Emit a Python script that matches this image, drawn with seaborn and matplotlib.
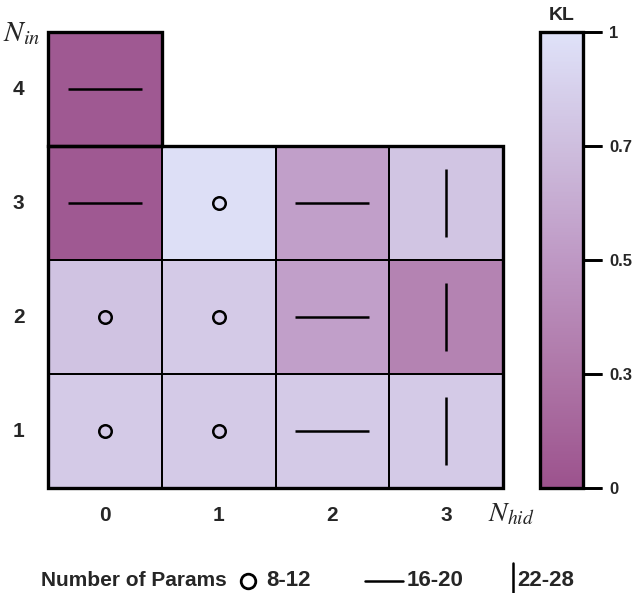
import numpy as np
import pandas as pd
import seaborn as sns
import matplotlib.pyplot as plt
from matplotlib.colors import LinearSegmentedColormap, FuncNorm
from matplotlib.patches import Rectangle
from matplotlib.transforms import blended_transform_factory

# data
n_in = [4, 3, 2, 1]
n_hid = [0, 1, 2, 3]
kl = [
    [0.06, np.nan, np.nan, np.nan],
    [0.06, 0.97, 0.54, 0.76],
    [0.74, 0.80, 0.54, 0.38],
    [0.80, 0.80, 0.80, 0.80],
]
# number-of-params class per cell: 'o' = 8-12, '_' = 16-20, '|' = 22-28
params = [
    ['_', None, None, None],
    ['_', 'o', '_', '|'],
    ['o', 'o', '_', '|'],
    ['o', 'o', '_', '|'],
]
cbar_ticks = [0, 0.3, 0.5, 0.7, 1]
cbar_ticklabels = ['0', '0.3', '0.5', '0.7', '1']
legend_labels = ['8-12', '16-20', '22-28']

sns.set_style('white')
plt.rcParams['font.family'] = ['Liberation Sans', 'DejaVu Sans']
plt.rcParams['mathtext.fontset'] = 'stix'

# colour bar is drawn with equally spaced ticks at 0 / .3 / .5 / .7 / 1
tick_pos = [0, 0.25, 0.5, 0.75, 1]
norm = FuncNorm((lambda v: np.interp(v, cbar_ticks, tick_pos),
                 lambda p: np.interp(p, tick_pos, cbar_ticks)), vmin=0, vmax=1)
cmap = LinearSegmentedColormap.from_list(
    'kl', [(0, '#9c528d'), (0.25, '#ae76a7'), (0.5, '#be98c4'),
           (0.75, '#cebede'), (1, '#dfe2f9')])

df = pd.DataFrame(kl, index=n_in, columns=n_hid)

fig = plt.figure(figsize=(6.4, 5.93), dpi=100)
ax = fig.add_axes([0.075, 0.177, 0.711, 0.769])
cax = fig.add_axes([0.844, 0.177, 0.067, 0.769])

sns.heatmap(df, ax=ax, cbar_ax=cax, cmap=cmap, norm=norm,
            linewidths=1.2, linecolor='black')

# no grid lines on the empty cells
mesh = ax.collections[0]
empty = df.isna().to_numpy().ravel()
mesh.set_edgecolor([(0, 0, 0, 0) if e else (0, 0, 0, 1) for e in empty])

# markers for the param classes
for i, row in enumerate(params):
    for j, p in enumerate(row):
        if p == 'o':
            ax.plot(j + 0.5, i + 0.5, 'o', ms=9, mfc='none', mec='black', mew=1.8)
        elif p == '_':
            ax.plot(j + 0.5, i + 0.5, '_', ms=53, mec='black', mew=1.8)
        elif p == '|':
            ax.plot(j + 0.5, i + 0.5, '|', ms=49, mec='black', mew=1.8)

# thick outline around the filled block
ax.add_patch(Rectangle((0, 1), 4, 3, fill=False, lw=2.4, ec='black', clip_on=False))
ax.add_patch(Rectangle((0, 0), 1, 1, fill=False, lw=2.4, ec='black', clip_on=False))

ax.tick_params(axis='y', length=0, labelsize=15, pad=17)
ax.tick_params(axis='x', length=0, labelsize=15, pad=13)
ax.set_yticklabels(n_in, rotation=0, fontweight='bold')
ax.set_xticklabels(n_hid, fontweight='bold')
ax.set_xlabel('')
ax.set_ylabel('')
fig.text(0.004, 0.944, r'$N_{in}$', fontsize=21, va='center', ha='left')
fig.text(0.763, 0.132, r'$N_{hid}$', fontsize=20, va='center', ha='left')

# colour bar
cbar = mesh.colorbar
cbar.minorticks_off()
cbar.set_ticks(cbar_ticks)
cbar.set_ticklabels(cbar_ticklabels)
cbar.outline.set_linewidth(2.4)
cbar.outline.set_edgecolor('black')
cax.tick_params(axis='y', which='major', length=14, width=2, labelsize=12, pad=5)
for t in cax.get_yticklabels():
    t.set_fontweight('bold')
# tick marks drawn by hand, the style leaves them invisible
trans = blended_transform_factory(cax.transAxes, cax.transData)
for t in cbar_ticks:
    cax.plot([1, 1.45], [t, t], color='black', lw=2, transform=trans,
             clip_on=False, solid_capstyle='butt')
cax.set_title('KL', fontsize=14, fontweight='bold', pad=9)

# legend strip along the bottom
lax = fig.add_axes([0, 0, 1, 0.1])
lax.set_xlim(0, 640)
lax.set_ylim(0, 59.3)
lax.axis('off')
y0 = 12
lax.text(41, y0, 'Number of Params', fontsize=15, fontweight='bold', va='center')
lax.plot(248, y0, 'o', ms=10.5, mfc='none', mec='black', mew=2)
lax.text(266, y0, legend_labels[0], fontsize=16, fontweight='bold', va='center')
lax.plot([365, 403], [y0, y0], color='black', lw=1.8)
lax.text(407, y0, legend_labels[1], fontsize=16, fontweight='bold', va='center')
lax.plot([513, 513], [0, 30], color='black', lw=1.8)
lax.text(517, y0, legend_labels[2], fontsize=16, fontweight='bold', va='center')

fig.savefig('out.png', dpi=100)
